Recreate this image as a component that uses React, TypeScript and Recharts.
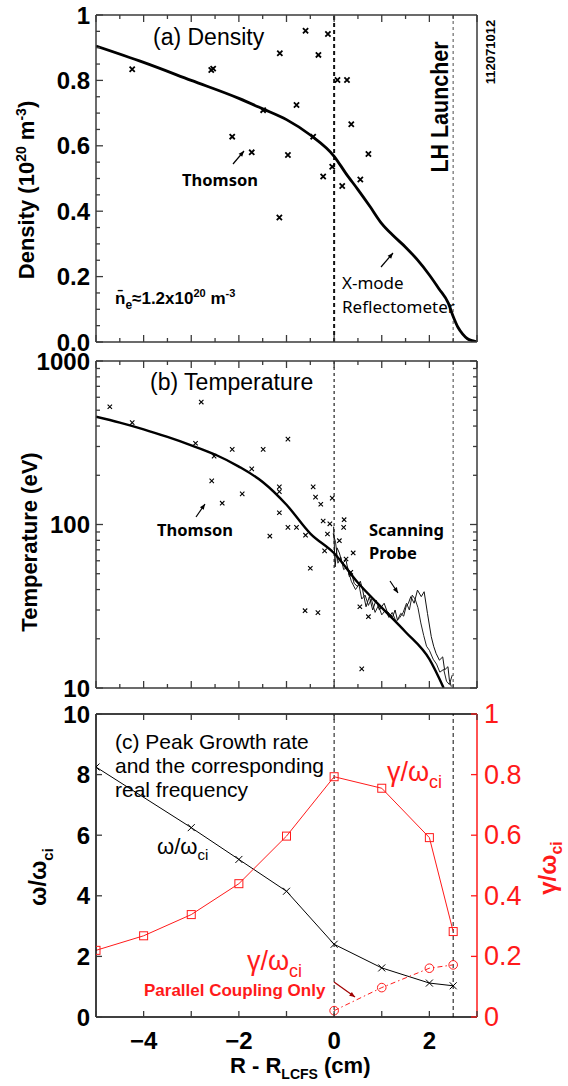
import React from "react"
import { ComposedChart, Line, Scatter, XAxis, YAxis, ReferenceLine } from "recharts"

const FONT = "'Liberation Sans', Arial, Helvetica, sans-serif"
const HUM = "'Noto Sans', 'Open Sans', sans-serif"
const AX = "#3a3a3a"
const RED = "#ff1a1a"

// ---- shared x ticks ----
const halfTicks = [-5, -4.5, -4, -3.5, -3, -2.5, -2, -1.5, -1, -0.5, 0, 0.5, 1, 1.5, 2, 2.5, 3]
const unitTicks = [-5, -4, -3, -2, -1, 0, 1, 2, 3]
const xLabels = [-4, -2, 0, 2]

// ---- (a) density ----
const densTicks = [0, 0.05, 0.1, 0.15, 0.2, 0.25, 0.3, 0.35, 0.4, 0.45, 0.5, 0.55, 0.6, 0.65, 0.7, 0.75, 0.8, 0.85, 0.9, 0.95, 1]
const densFitX = [-5, -4, -3, -2, -1.5, -1, -0.5, 0, 0.25, 0.5, 0.75, 1, 1.25, 1.5, 1.75, 2, 2.2, 2.4, 2.5, 2.6, 2.7, 2.8, 2.9, 3]
const densFitY = [0.905, 0.855, 0.8, 0.745, 0.713, 0.68, 0.633, 0.568, 0.515, 0.466, 0.415, 0.362, 0.324, 0.29, 0.251, 0.205, 0.163, 0.118, 0.078, 0.045, 0.024, 0.01, 0.004, 0]
const densThX = [-4.24, -2.58, -2.54, -2.14, -1.73, -1.49, -1.15, -1.14, -0.97, -0.79, -0.6, -0.44, -0.33, -0.23, -0.13, -0.04, 0.07, 0.17, 0.27, 0.36, 0.55, 0.72]
const densThY = [0.834, 0.832, 0.836, 0.628, 0.58, 0.709, 0.381, 0.883, 0.572, 0.725, 0.952, 0.628, 0.878, 0.506, 0.942, 0.536, 0.801, 0.477, 0.801, 0.666, 0.497, 0.575]

// ---- (b) temperature ----
const tempTicks = [10, 20, 30, 40, 50, 60, 70, 80, 90, 100, 200, 300, 400, 500, 600, 700, 800, 900, 1000]
const tempMajor = [10, 100, 1000]
const tempFitX = [-5, -4.5, -4, -3.5, -3, -2.5, -2, -1.5, -1, -0.5, 0, 0.5, 1, 1.5, 2, 2.3]
const tempFitY = [456, 420, 382, 343, 305, 268, 226, 182, 132, 88, 66.7, 44, 31, 22, 15, 10]
const tempThX = [-4.71, -4.24, -2.91, -2.79, -2.57, -2.52, -2.35, -2.14, -1.93, -1.73, -1.49, -1.35, -1.15, -1.15, -1.15, -0.97, -0.97, -0.79, -0.61, -0.6, -0.5, -0.44, -0.39, -0.34, -0.28, -0.23, -0.2, -0.14, -0.09, -0.04, 0.11, 0.2, 0.21, 0.25, 0.35, 0.4, 0.54, 0.58, 0.72]
const tempThY = [525, 420, 314, 561, 185, 262, 135, 288, 154, 219, 288, 85, 170, 159, 118, 333, 96, 96, 29.7, 86, 54, 170, 147, 28.9, 133, 105, 69, 87.5, 101, 145, 79.6, 96, 107, 61.5, 51, 67, 31.4, 13.1, 27.3]
const probe1X = [-0.01, 0.02, 0.06, 0.11, 0.17, 0.25, 0.32, 0.37, 0.42, 0.49, 0.55, 0.6, 0.67, 0.74, 0.81, 0.88, 0.95, 1.0, 1.05, 1.11, 1.16, 1.23, 1.28, 1.33, 1.4, 1.46, 1.51, 1.56, 1.61, 1.68, 1.75, 1.83, 1.89, 1.96, 2.04, 2.09, 2.14, 2.21, 2.28, 2.32, 2.39, 2.42, 2.46]
const probe1Y = [97, 55, 72, 67, 57.8, 60.5, 47.9, 50, 43.7, 41.7, 45, 39.7, 31.4, 36.2, 30, 34.5, 30, 31.5, 33, 29.5, 28.6, 27.3, 30, 26, 28.6, 27.5, 31.4, 33, 36.2, 33, 39.7, 36.2, 38.8, 28.6, 20.6, 18, 16.3, 14.8, 15.5, 12.9, 13.5, 11.2, 10.2]
const probe2X = [-0.02, 0.03, 0.08, 0.14, 0.2, 0.28, 0.36, 0.45, 0.52, 0.58, 0.65, 0.72, 0.78, 0.86, 0.93, 1.0, 1.08, 1.15, 1.22, 1.3, 1.38, 1.45, 1.52, 1.58, 1.64, 1.7, 1.76, 1.82, 1.88, 1.94, 2.0, 2.08, 2.15, 2.22, 2.3, 2.36, 2.42, 2.48]
const probe2Y = [88, 78, 58, 63, 53, 55, 45, 40, 43, 35, 37, 32, 35, 29, 32, 28, 30, 27, 29, 25.5, 27, 29, 33, 30, 37, 35, 31, 25, 21, 18, 17, 15, 14, 12.5, 13, 11, 10.5, 12]

// ---- (c) growth rate ----
const omegaTicks = [0, 2, 4, 6, 8, 10]
const gammaTicks = [0, 0.2, 0.4, 0.6, 0.8, 1]
const omegaX = [-5, -3, -2, -1, 0, 1, 2, 2.5]
const omegaY = [8.25, 6.25, 5.2, 4.15, 2.4, 1.62, 1.12, 1.03]
const gammaX = [-5, -4, -3, -2, -1, 0, 1, 2, 2.5]
const gammaY = [0.22, 0.268, 0.338, 0.44, 0.597, 0.793, 0.755, 0.592, 0.282]
const gammaParX = [0, 1, 2, 2.5]
const gammaParY = [0.021, 0.097, 0.161, 0.172]

const pts = (xs: number[], ys: number[]) => xs.map((x, i) => ({ x, y: ys[i] }))

type Side = "left" | "right" | "top" | "bottom"
function tickFn(side: Side, o: {
  isMajor?: (v: number) => boolean; label?: (v: number) => string
  color?: string; size?: number; weight?: any; major?: number; minor?: number
} = {}) {
  const { isMajor = () => true, label, color = "#000", size = 24, weight = "bold", major = 7, minor = 4 } = o
  return (p: any) => {
    const x = Number(p.x), y = Number(p.y)
    const v = p.payload.value
    const len = isMajor(v) ? major : minor
    const dx = side === "left" ? len : side === "right" ? -len : 0
    const dy = side === "top" ? len : side === "bottom" ? -len : 0
    const txt = label ? label(v) : ""
    let tx = x, ty = y, anchor: any = "middle", base: any = "central"
    if (side === "left") { tx = x - 6; anchor = "end" }
    if (side === "right") { tx = x + 7; anchor = "start" }
    if (side === "bottom") { ty = y + 32; base = "auto" }
    return (
      <g>
        <line x1={x} y1={y} x2={x + dx} y2={y + dy} stroke={color === "#000" ? AX : color} strokeWidth={1.3} />
        {txt !== "" && (
          <text x={tx} y={ty} textAnchor={anchor} dominantBaseline={base} fill={color}
            fontSize={size} fontWeight={weight} fontFamily={FONT}>{txt}</text>
        )}
      </g>
    )
  }
}

const near = (a: number, b: number) => Math.abs(a - b) < 1e-6
const isInt = (v: number) => near(v, Math.round(v))
const axisLine = { stroke: AX, strokeWidth: 1.5 }

const cross = (r: number, w: number, color = "#000") => (p: any) => (
  <path d={`M${p.cx - r},${p.cy - r}L${p.cx + r},${p.cy + r}M${p.cx - r},${p.cy + r}L${p.cx + r},${p.cy - r}`}
    stroke={color} strokeWidth={w} fill="none" />
)

function DensityChart() {
  return (
    <ComposedChart width={568} height={355} margin={{ top: 14, right: 0, bottom: 12, left: 0 }}>
      <XAxis xAxisId="b" dataKey="x" type="number" domain={[-5, 3]} ticks={halfTicks} interval={0} height={1}
        tickSize={0} tickMargin={0} tickLine={false} axisLine={axisLine} allowDataOverflow
        tick={tickFn("bottom", { isMajor: isInt })} />
      <XAxis xAxisId="t" orientation="top" dataKey="x" type="number" domain={[-5, 3]} ticks={halfTicks} interval={0} height={1}
        tickSize={0} tickMargin={0} tickLine={false} axisLine={axisLine} allowDataOverflow
        tick={tickFn("top", { isMajor: isInt })} />
      <YAxis yAxisId="l" dataKey="y" type="number" domain={[0, 1]} ticks={densTicks} interval={0} width={96}
        tickSize={0} tickMargin={0} tickLine={false} axisLine={axisLine} allowDataOverflow
        tick={tickFn("left", { isMajor: (v) => isInt(v * 5), label: (v) => (isInt(v * 5) ? (near(v, 1) ? "1" : v.toFixed(1)) : "") })} />
      <YAxis yAxisId="r" orientation="right" type="number" domain={[0, 1]} ticks={densTicks} interval={0} width={91}
        tickSize={0} tickMargin={0} tickLine={false} axisLine={axisLine}
        tick={tickFn("right", { isMajor: (v) => isInt(v * 5) })} />
      <ReferenceLine xAxisId="b" yAxisId="l" x={0} stroke="#111" strokeWidth={2} strokeDasharray="4 3" />
      <ReferenceLine xAxisId="b" yAxisId="l" x={2.5} stroke="#888" strokeWidth={1.5} strokeDasharray="3 3" />
      <Line xAxisId="b" yAxisId="l" data={pts(densFitX, densFitY)} dataKey="y" type="monotone" stroke="#000"
        strokeWidth={2.8} dot={false} isAnimationActive={false} />
      <Scatter xAxisId="b" yAxisId="l" data={pts(densThX, densThY)} shape={cross(2.6, 1.8)} isAnimationActive={false} />
    </ComposedChart>
  )
}

function TemperatureChart() {
  return (
    <ComposedChart width={568} height={354} margin={{ top: 13, right: 0, bottom: 12, left: 0 }}>
      <XAxis xAxisId="b" dataKey="x" type="number" domain={[-5, 3]} ticks={halfTicks} interval={0} height={1}
        tickSize={0} tickMargin={0} tickLine={false} axisLine={axisLine} allowDataOverflow
        tick={tickFn("bottom", { isMajor: isInt })} />
      <XAxis xAxisId="t" orientation="top" dataKey="x" type="number" domain={[-5, 3]} ticks={halfTicks} interval={0} height={1}
        tickSize={0} tickMargin={0} tickLine={false} axisLine={axisLine} allowDataOverflow
        tick={tickFn("top", { isMajor: isInt })} />
      <YAxis yAxisId="l" dataKey="y" type="number" scale="log" domain={[10, 1000]} ticks={tempTicks} interval={0} width={96}
        tickSize={0} tickMargin={0} tickLine={false} axisLine={axisLine} allowDataOverflow
        tick={tickFn("left", { isMajor: (v) => tempMajor.includes(v), label: (v) => (tempMajor.includes(v) ? String(v) : "") })} />
      <YAxis yAxisId="r" orientation="right" type="number" scale="log" domain={[10, 1000]} ticks={tempTicks} interval={0} width={91}
        tickSize={0} tickMargin={0} tickLine={false} axisLine={axisLine} allowDataOverflow
        tick={tickFn("right", { isMajor: (v) => tempMajor.includes(v) })} />
      <ReferenceLine xAxisId="b" yAxisId="l" x={0} stroke="#222" strokeWidth={1.2} strokeDasharray="3 3" />
      <ReferenceLine xAxisId="b" yAxisId="l" x={2.5} stroke="#777" strokeWidth={1.4} strokeDasharray="3 3" />
      <Line xAxisId="b" yAxisId="l" data={pts(probe2X, probe2Y)} dataKey="y" type="linear" stroke="#222"
        strokeWidth={1} dot={false} isAnimationActive={false} />
      <Line xAxisId="b" yAxisId="l" data={pts(probe1X, probe1Y)} dataKey="y" type="linear" stroke="#111"
        strokeWidth={1} dot={false} isAnimationActive={false} />
      <Line xAxisId="b" yAxisId="l" data={pts(tempFitX, tempFitY)} dataKey="y" type="monotone" stroke="#000"
        strokeWidth={2.4} dot={false} isAnimationActive={false} />
      <Scatter xAxisId="b" yAxisId="l" data={pts(tempThX, tempThY)} shape={cross(2.2, 1.1)} isAnimationActive={false} />
    </ComposedChart>
  )
}

const squareDot = (p: any) => (
  <rect key={`s${p.index}`} x={p.cx - 4} y={p.cy - 4} width={8} height={8} fill="none" stroke={RED} strokeWidth={1} />
)
const circleDot = (p: any) => (
  <circle key={`c${p.index}`} cx={p.cx} cy={p.cy} r={4.3} fill="none" stroke={RED} strokeWidth={1} />
)
const crossDot = (p: any) => (
  <path key={`x${p.index}`} d={`M${p.cx - 3.5},${p.cy - 3.5}L${p.cx + 3.5},${p.cy + 3.5}M${p.cx - 3.5},${p.cy + 3.5}L${p.cx + 3.5},${p.cy - 3.5}`}
    stroke="#000" strokeWidth={1} fill="none" />
)

function GrowthChart() {
  return (
    <ComposedChart width={568} height={367} margin={{ top: 13, right: 0, bottom: 0, left: 0 }}>
      <XAxis xAxisId="b" dataKey="x" type="number" domain={[-5, 3]} ticks={unitTicks} interval={0} height={50}
        tickSize={0} tickMargin={0} tickLine={false} axisLine={{ stroke: "#000", strokeWidth: 1.5 }} allowDataOverflow
        tick={tickFn("bottom", { major: 6, label: (v) => (xLabels.includes(v) ? (v < 0 ? "\u2212" + Math.abs(v) : String(v)) : "") })} />
      <XAxis xAxisId="t" orientation="top" dataKey="x" type="number" domain={[-5, 3]} ticks={unitTicks} interval={0} height={1}
        tickSize={0} tickMargin={0} tickLine={false} axisLine={{ stroke: "#000", strokeWidth: 1.5 }} allowDataOverflow
        tick={tickFn("top", { major: 6 })} />
      <YAxis yAxisId="l" dataKey="y" type="number" domain={[0, 10]} ticks={omegaTicks} interval={0} width={96}
        tickSize={0} tickMargin={0} tickLine={false} axisLine={{ stroke: "#000", strokeWidth: 1.5 }} allowDataOverflow
        tick={tickFn("left", { major: 6, label: (v) => String(v) })} />
      <YAxis yAxisId="r" orientation="right" dataKey="y" type="number" domain={[0, 1]} ticks={gammaTicks} interval={0} width={91}
        tickSize={0} tickMargin={0} tickLine={false} axisLine={{ stroke: RED, strokeWidth: 1.5 }} allowDataOverflow
        tick={tickFn("right", { major: 6, color: RED, size: 27, weight: "normal", label: (v) => (near(v, 0) || near(v, 1) ? String(v) : v.toFixed(1)) })} />
      <ReferenceLine xAxisId="b" yAxisId="l" x={0} stroke="#222" strokeWidth={1.1} strokeDasharray="4 3" />
      <ReferenceLine xAxisId="b" yAxisId="l" x={2.5} stroke="#222" strokeWidth={1.1} strokeDasharray="4 3" />
      <Line xAxisId="b" yAxisId="l" data={pts(omegaX, omegaY)} dataKey="y" type="linear" stroke="#000"
        strokeWidth={1} dot={crossDot} isAnimationActive={false} />
      <Line xAxisId="b" yAxisId="r" data={pts(gammaX, gammaY)} dataKey="y" type="linear" stroke={RED}
        strokeWidth={1} dot={squareDot} isAnimationActive={false} />
      <Line xAxisId="b" yAxisId="r" data={pts(gammaParX, gammaParY)} dataKey="y" type="linear" stroke={RED}
        strokeWidth={1} strokeDasharray="5 3 1.5 3" dot={circleDot} isAnimationActive={false} />
    </ComposedChart>
  )
}

function Arrow({ x1, y1, x2, y2, color = "#000", head = 6 }: { x1: number; y1: number; x2: number; y2: number; color?: string; head?: number }) {
  const a = Math.atan2(y2 - y1, x2 - x1)
  const p1 = `${x2 - head * Math.cos(a - 0.4)},${y2 - head * Math.sin(a - 0.4)}`
  const p2 = `${x2 - head * Math.cos(a + 0.4)},${y2 - head * Math.sin(a + 0.4)}`
  return (
    <g>
      <line x1={x1} y1={y1} x2={x2} y2={y2} stroke={color} strokeWidth={1.2} />
      <polygon points={`${x2},${y2} ${p1} ${p2}`} fill={color} />
    </g>
  )
}

function Annotations() {
  return (
    <svg width={568} height={1086} style={{ position: "absolute", left: 0, top: 0, pointerEvents: "none" }}
      fontFamily={FONT}>
      {/* panel (a) */}
      <text x={153} y={45} fontSize={23}>(a) Density</text>
      <text x={220} y={186} fontSize={16.5} fontWeight="bold" fontFamily={HUM} textAnchor="middle">Thomson</text>
      <Arrow x1={233} y1={164} x2={244} y2={151} />
      <text x={115} y={304} fontSize={17} fontWeight="bold">
        n{"\u0304"}<tspan dy={5} fontSize={12}>e</tspan><tspan dy={-5}>≈1.2x10</tspan>
        <tspan dy={-7} fontSize={11}>20</tspan><tspan dy={7}> m</tspan><tspan dy={-7} fontSize={11}>-3</tspan>
      </text>
      <text x={342} y={289} fontSize={17} fontFamily={HUM}>X-mode</text>
      <text x={342} y={313} fontSize={17} fontFamily={HUM}>Reflectometer</text>
      <Arrow x1={381} y1={267} x2={393} y2={253} />
      <text transform="rotate(-90 448 107)" x={448} y={107} fontSize={24} fontWeight="bold" textAnchor="middle"
        textLength={131} lengthAdjust="spacingAndGlyphs">LH Launcher</text>
      <text transform="rotate(-90 495 52)" x={495} y={52} fontSize={13} fontWeight="bold" textAnchor="middle">112071012</text>
      <text transform="rotate(-90 34 190)" x={34} y={190} fontSize={22} fontWeight="bold" textAnchor="middle">
        Density (10<tspan dy={-8} fontSize={14}>20</tspan><tspan dy={8}> m</tspan><tspan dy={-8} fontSize={14}>-3</tspan><tspan dy={8}>)</tspan>
      </text>

      {/* panel (b) */}
      <text x={150} y={390} fontSize={23}>(b) Temperature</text>
      <text x={195} y={536} fontSize={16.5} fontWeight="bold" fontFamily={HUM} textAnchor="middle">Thomson</text>
      <Arrow x1={196} y1={517} x2={205} y2={504} />
      <text x={369} y={536} fontSize={16.5} fontWeight="bold" fontFamily={HUM}>Scanning</text>
      <text x={369} y={559} fontSize={16.5} fontWeight="bold" fontFamily={HUM}>Probe</text>
      <Arrow x1={390} y1={581} x2={398} y2={593} />
      <text transform="rotate(-90 37 542)" x={37} y={542} fontSize={22} fontWeight="bold" textAnchor="middle">Temperature (eV)</text>

      {/* panel (c) */}
      <text x={115} y={749} fontSize={21}>(c) Peak Growth rate</text>
      <text x={115} y={773} fontSize={21}>and the corresponding</text>
      <text x={115} y={797} fontSize={21}>real frequency</text>
      <text x={157} y={854} fontSize={22}>ω/ω<tspan dy={6} fontSize={15}>ci</tspan></text>
      <text x={387} y={781} fontSize={27} fill={RED}>γ/ω<tspan dy={7} fontSize={18}>ci</tspan></text>
      <text x={247} y={970} fontSize={27} fill={RED}>γ/ω<tspan dy={7} fontSize={18}>ci</tspan></text>
      <text x={144} y={996} fontSize={17} fontWeight="bold" fill={RED}>Parallel Coupling Only</text>
      <Arrow x1={334} y1={982} x2={355} y2={997} color="#a00000" />
      <text transform="rotate(-90 46 877)" x={46} y={877} fontSize={23} fontWeight="bold" textAnchor="middle">
        ω/ω<tspan dy={7} fontSize={15}>ci</tspan>
      </text>
      <text transform="rotate(-90 556 868)" x={556} y={868} fontSize={24} fontWeight="bold" fill={RED} textAnchor="middle">
        γ/ω<tspan dy={6} fontSize={16}>ci</tspan>
      </text>
      <text x={230} y={1073} fontSize={22} fontWeight="bold">
        R - R<tspan dy={6} fontSize={14}>LCFS</tspan><tspan dy={-6}> (cm)</tspan>
      </text>
    </svg>
  )
}

export default function App() {
  return (
    <div style={{ position: "absolute", left: 0, top: 0, width: 568, height: 1086, background: "#fff", fontFamily: FONT }}>
      <div style={{ position: "absolute", left: 0, top: 0 }}><DensityChart /></div>
      <div style={{ position: "absolute", left: 0, top: 347 }}><TemperatureChart /></div>
      <div style={{ position: "absolute", left: 0, top: 700 }}><GrowthChart /></div>
      <Annotations />
    </div>
  )
}
